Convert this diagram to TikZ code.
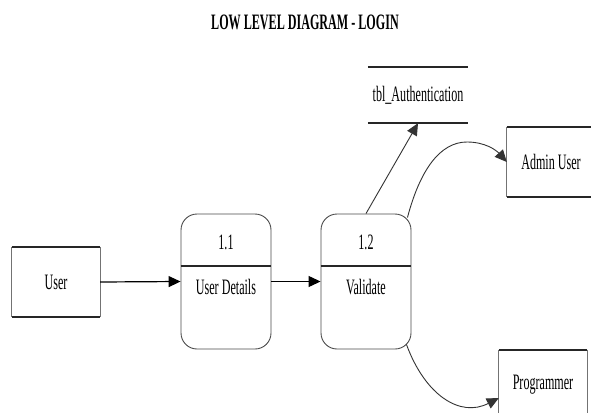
\documentclass[tikz,border=0pt]{standalone}
\usepackage{fontspec}
\setmainfont{Liberation Serif}
\newfontfamily\narrowserif{Liberation Serif}[FakeStretch=0.55]
\usetikzlibrary{arrows.meta,calc}

% horizontal rules and thin sides of an external entity box
\newcommand\entitylines[1]{%
  \draw[edgeside] (#1.north west) -- (#1.south west);
  \draw[edgeside] (#1.north east) -- (#1.south east);
  \draw[edgerule] (#1.north west) -- (#1.north east);
  \draw[edgerule] (#1.south west) -- (#1.south east);
}

\begin{document}
\begin{tikzpicture}[x=1pt,y=-1pt,
  lbl/.style={font=\narrowserif\fontsize{22}{22}\selectfont, inner sep=0pt},
  entity/.style={lbl, minimum width=88pt, minimum height=70pt},
  edgeside/.style={draw=black!55, line width=0.7pt},
  edgerule/.style={draw=black!85, line width=1.5pt},
  process/.style={draw=black!70, line width=0.9pt, rounded corners=16pt,
    minimum width=90pt, minimum height=135pt, inner sep=0pt},
  divider/.style={draw=black!85, line width=1.4pt},
  flow/.style={draw=black, line width=1.2pt, -{Triangle[length=12pt,width=11pt]}},
  curveflow/.style={draw=black!80, line width=0.9pt, -{Triangle[length=12pt,width=11pt]}},
]
\clip (0,0) rectangle (591,412);
\fill[white] (0,0) rectangle (591,412);

% title
\node[font=\narrowserif\bfseries\fontsize{22}{22}\selectfont, inner sep=0pt]
  (title) at (305,22) {LOW LEVEL DIAGRAM - LOGIN};

% external entities
\node[entity] (user) at (56,282) {User};
\entitylines{user}
\node[entity] (admin) at (551,162) {Admin User};
\entitylines{admin}
\node[entity] (prog) at (543,385) {Programmer};
\entitylines{prog}

% processes
\node[process] (p1) at (226,281.5) {};
\draw[divider] (p1.west |- 0,266) -- (p1.east |- 0,266);
\node[lbl] (p1num) at (226,242) {1.1};
\node[lbl] (p1txt) at (226,287) {User Details};

\node[process] (p2) at (366,281.5) {};
\draw[divider] (p2.west |- 0,266) -- (p2.east |- 0,266);
\node[lbl] (p2num) at (366,242) {1.2};
\node[lbl] (p2txt) at (366,287) {Validate};

% data store
\node[lbl, minimum width=100pt, minimum height=56pt] (ds) at (418,95) {tbl\_Authentication};
\draw[edgerule] (ds.north west) -- (ds.north east);
\draw[edgerule] (ds.south west) -- (ds.south east);

% data flows
\draw[flow] (user.east) -- (p1.west);
\draw[flow] (p1.east) -- (p2.west);
\draw[curveflow] (p2.north) -- (ds.south);
\draw[curveflow] ($(p2.north east)+(-4,4)$)
  .. controls (420,170) and (440,142) .. (467,142)
  .. controls (485,142) and (496,150) .. (admin.west);
\draw[curveflow] ($(p2.south east)+(-5,-5)$)
  .. controls (425,395) and (460,418) .. (prog.west |- 0,398);
\end{tikzpicture}
\end{document}
